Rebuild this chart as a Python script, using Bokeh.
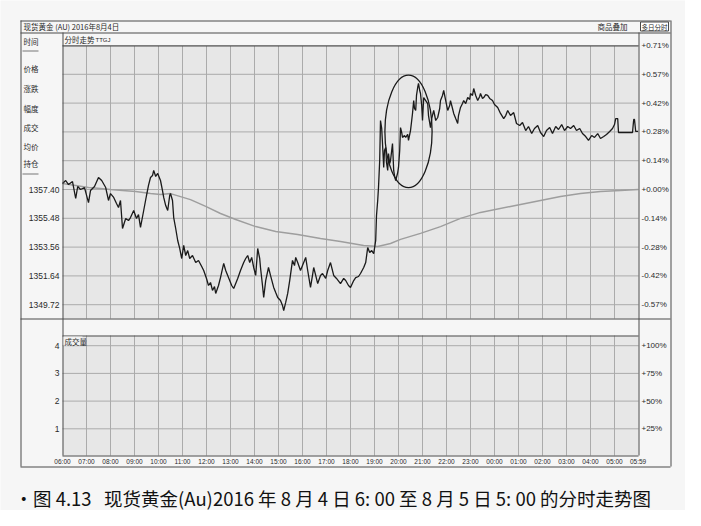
import numpy as np
from bokeh.plotting import figure
from bokeh.models import Range1d
from bokeh.core.properties import value
from bokeh.embed import file_html
from bokeh.resources import INLINE

# ---------------- data ----------------
TITLE = "现货黄金 (AU) 2016年8月4日"
SUBTITLE = "分时走势"
SUBTITLE_CODE = "TTGJ"
OVERLAY_BTN = "商品叠加"
MODE_BTN = "多日分时"
VOL_TITLE = "成交量"
NB = "\u00a0"
CAPTION = ("•图" + NB + "4.13" + NB * 3 + "现货黄金(Au)2016" + NB + "年" + NB + "8" + NB + "月"
           + NB + "4" + NB + "日" + NB + "6:" + NB + "00" + NB + "至" + NB + "8" + NB + "月" + NB
           + "5" + NB + "日" + NB + "5:" + NB + "00" + NB + "的分时走势图")
SIDE_LABELS = ["时间", "价格", "涨跌", "幅度", "成交", "均价", "持仓"]

BASE_PRICE = 1357.40
LEFT_PRICE_TICKS = [1357.40, 1355.48, 1353.56, 1351.64, 1349.72]
RIGHT_PRICE_TICKS = [1367.00, 1365.08, 1363.16, 1361.24, 1359.32,
                     1357.40, 1355.48, 1353.56, 1351.64, 1349.72]
VOL_TICKS = [1, 2, 3, 4]
VOL_PCT_LABELS = ["+25%", "+50%", "+75%", "+100%"]
TIME_LABELS = ["06:00", "07:00", "08:00", "09:00", "10:00", "11:00", "12:00",
               "13:00", "14:00", "15:00", "16:00", "17:00", "18:00", "19:00",
               "20:00", "21:00", "22:00", "23:00", "00:00", "01:00", "02:00",
               "03:00", "04:00", "05:00", "05:59"]

# minutes after 06:00 and price
MINUTES = [
    0, 8, 15, 25, 33, 38, 45, 55, 65, 70,
    80, 90, 98, 108, 115, 120, 128, 135, 140, 145,
    150, 158, 165, 170, 178, 185, 190, 195, 203, 210,
    215, 220, 225, 228, 233, 238, 245, 250, 253, 258,
    263, 268, 270, 275, 278, 283, 288, 293, 298, 303,
    308, 313, 318, 325, 333, 340, 348, 353, 360, 365,
    370, 375, 380, 383, 390, 395, 400, 403, 408, 415,
    423, 428, 433, 438, 445, 453, 458, 463, 468, 473,
    478, 483, 488, 493, 495, 500, 503, 508, 515, 520,
    528, 533, 538, 545, 550, 553, 558, 563, 568, 575,
    580, 583, 588, 595, 600, 608, 613, 620, 625, 628,
    633, 638, 645, 650, 658, 663, 670, 678, 685, 695,
    703, 708, 715, 720, 728, 733, 740, 745, 753, 758,
    763, 768, 773, 778, 783, 785, 788, 790, 793, 795,
    798, 800, 803, 805, 808, 810, 813, 815, 818, 820,
    823, 825, 828, 830, 833, 838, 840, 843, 845, 848,
    850, 855, 858, 863, 865, 870, 873, 875, 878, 880,
    883, 885, 888, 890, 893, 895, 898, 900, 903, 908,
    913, 915, 920, 923, 928, 933, 938, 943, 945, 950,
    953, 958, 963, 968, 970, 975, 978, 983, 988, 990,
    995, 1000, 1003, 1008, 1013, 1018, 1020, 1025, 1028, 1033,
    1038, 1043, 1045, 1050, 1053, 1058, 1063, 1068, 1075, 1080,
    1088, 1095, 1103, 1108, 1113, 1120, 1128, 1135, 1143, 1150,
    1158, 1165, 1173, 1180, 1188, 1195, 1203, 1210, 1218, 1225,
    1233, 1240, 1248, 1255, 1263, 1270, 1278, 1285, 1293, 1300,
    1308, 1315, 1323, 1330, 1338, 1345, 1353, 1360, 1368, 1375,
    1380, 1383, 1388, 1390, 1408, 1425, 1428, 1430, 1433, 1439,
]
PRICES = [
    1357.80, 1358.00, 1357.73, 1357.93, 1356.80, 1357.60, 1357.40, 1357.53, 1356.53, 1357.33,
    1357.60, 1358.20, 1358.00, 1357.53, 1356.67, 1357.13, 1356.87, 1356.47, 1356.20, 1356.67,
    1354.80, 1355.47, 1355.33, 1355.53, 1356.00, 1355.47, 1355.73, 1354.87, 1356.00, 1357.00,
    1357.67, 1358.20, 1358.33, 1358.67, 1358.27, 1358.47, 1358.00, 1357.33, 1356.87, 1356.33,
    1356.00, 1357.00, 1357.13, 1356.67, 1355.53, 1354.80, 1354.00, 1353.47, 1352.80, 1353.67,
    1353.00, 1353.33, 1352.80, 1353.00, 1352.53, 1352.67, 1352.27, 1352.00, 1351.47, 1351.00,
    1351.20, 1350.67, 1350.93, 1350.47, 1351.00, 1351.53, 1352.13, 1352.47, 1352.00, 1351.53,
    1351.00, 1350.80, 1351.13, 1351.47, 1352.00, 1352.53, 1352.80, 1353.00, 1352.53, 1352.87,
    1352.20, 1351.67, 1353.47, 1352.80, 1352.20, 1351.00, 1350.20, 1351.33, 1352.20, 1351.67,
    1350.87, 1350.53, 1350.20, 1350.00, 1349.67, 1349.33, 1349.87, 1350.47, 1351.33, 1352.67,
    1352.33, 1352.87, 1352.53, 1352.00, 1352.33, 1352.87, 1352.00, 1350.87, 1351.67, 1352.20,
    1351.67, 1351.13, 1351.67, 1351.80, 1351.47, 1352.00, 1352.53, 1351.67, 1351.47, 1351.13,
    1351.47, 1351.33, 1351.00, 1350.87, 1351.33, 1351.53, 1351.60, 1351.80, 1352.20, 1352.53,
    1353.53, 1353.20, 1353.33, 1353.13, 1354.00, 1355.67, 1356.67, 1357.53, 1359.33, 1362.00,
    1361.47, 1360.47, 1358.87, 1360.00, 1360.20, 1359.20, 1358.67, 1359.80, 1359.13, 1359.33,
    1360.00, 1360.47, 1358.67, 1358.33, 1358.00, 1358.53, 1358.87, 1360.00, 1361.53, 1361.20,
    1360.87, 1361.00, 1360.87, 1361.07, 1360.67, 1361.33, 1362.00, 1362.47, 1363.33, 1362.80,
    1362.67, 1363.67, 1364.20, 1364.47, 1364.00, 1363.80, 1363.00, 1362.00, 1363.53, 1363.33,
    1363.13, 1362.33, 1361.53, 1362.13, 1362.67, 1362.00, 1362.20, 1362.80, 1363.33, 1363.67,
    1364.00, 1363.33, 1362.67, 1363.00, 1363.33, 1362.80, 1362.47, 1362.13, 1361.80, 1362.33,
    1362.87, 1363.13, 1363.33, 1363.13, 1363.53, 1363.40, 1363.80, 1363.67, 1364.13, 1363.67,
    1363.33, 1363.60, 1363.80, 1363.47, 1363.53, 1363.73, 1363.67, 1363.47, 1363.33, 1363.07,
    1362.87, 1362.47, 1362.13, 1362.33, 1362.67, 1362.33, 1362.53, 1361.80, 1361.67, 1361.87,
    1361.33, 1361.60, 1361.13, 1361.47, 1361.67, 1361.20, 1360.93, 1361.33, 1361.53, 1361.13,
    1361.60, 1361.40, 1361.73, 1361.33, 1361.60, 1361.47, 1361.67, 1361.33, 1361.47, 1361.13,
    1360.93, 1360.67, 1361.00, 1360.87, 1361.13, 1360.80, 1360.93, 1361.07, 1361.27, 1361.47,
    1361.73, 1362.13, 1362.13, 1361.20, 1361.20, 1361.20, 1362.07, 1362.07, 1361.27, 1361.27,
]
AVG_MINUTES = [0, 33, 65, 95, 120, 150, 183, 220, 245, 270, 295, 320, 358, 395, 433,
               483, 533, 588, 645, 695, 753, 788, 820, 845, 895, 945, 995, 1045,
               1120, 1195, 1245, 1295, 1345, 1395, 1439]
AVG_PRICES = [1357.80, 1357.67, 1357.53, 1357.47, 1357.40, 1357.33, 1357.27, 1357.13,
              1357.07, 1357.13, 1356.93, 1356.73, 1356.27, 1355.80, 1355.40, 1354.93,
              1354.60, 1354.40, 1354.13, 1353.93, 1353.67, 1353.60, 1353.80, 1354.07,
              1354.47, 1354.93, 1355.47, 1355.87, 1356.27, 1356.67, 1356.93, 1357.13,
              1357.27, 1357.33, 1357.40]

# hand-drawn circle around the breakout (centre minute / price, size)
CIRCLE_MINUTE = 865
CIRCLE_PRICE = 1361.27
CIRCLE_W_MIN = 118
CIRCLE_H_PRICE = 7.5

# ---------------- layout (canvas pixels) ----------------
W, H = 685, 510
FL, FR, FT = 62, 638, 45          # plot area edges
PRICE_B, VOL_T, VOL_B = 318, 335, 455
BASE_Y, STEP_PX, PRICE_STEP = 189, 28.8, 1.92
VOL0_Y, VOL_PX = 456, 27.7
PX_PER_HOUR = 24.0
ppp = PRICE_STEP / STEP_PX


def price_at(y):
    return BASE_PRICE - (y - BASE_Y) * ppp


def vol_at(y):
    return (VOL0_Y - y) / VOL_PX


BG = "#f6f6f6"
PANEL = "#e7e7e7"
GRID = "#ababab"
EDGE = "#4a4a4a"
TXT = "#2a2a2a"
CJK = "Noto Sans CJK SC"
NUM = "Liberation Sans"

p = figure(width=W, height=H, title=None,
           x_range=Range1d(-FL / PX_PER_HOUR, (W - FL) / PX_PER_HOUR),
           y_range=Range1d(price_at(H), price_at(0)),
           x_axis_type=None, y_axis_type=None, output_backend="svg",
           toolbar_location=None, min_border=0)
p.extra_x_ranges = {"px": Range1d(0, W)}
p.extra_y_ranges = {"py": Range1d(H, 0), "vol": Range1d(vol_at(H), vol_at(0))}
p.outline_line_color = None
p.background_fill_color = BG
p.border_fill_color = BG

# panel backgrounds
p.quad(left=[FL, FL], right=[FR, FR], top=[FT, VOL_T], bottom=[PRICE_B, VOL_B],
       x_range_name="px", y_range_name="py", fill_color=PANEL, line_color=None)

# grid
hours = list(range(1, 24))
n = len(hours)
p.segment(x0=hours, x1=hours, y0=[FT] * n, y1=[PRICE_B] * n, y_range_name="py",
          line_color=GRID, line_width=1)
p.segment(x0=hours, x1=hours, y0=[VOL_T] * n, y1=[VOL_B] * n, y_range_name="py",
          line_color=GRID, line_width=1)
p.segment(x0=[0] * len(RIGHT_PRICE_TICKS), x1=[24] * len(RIGHT_PRICE_TICKS),
          y0=RIGHT_PRICE_TICKS, y1=RIGHT_PRICE_TICKS, line_color=GRID, line_width=1)
p.segment(x0=[0] * len(VOL_TICKS), x1=[24] * len(VOL_TICKS), y0=VOL_TICKS, y1=VOL_TICKS,
          y_range_name="vol", line_color=GRID, line_width=1)

# series
p.line(np.array(AVG_MINUTES) / 60, AVG_PRICES, line_color="#9e9e9e", line_width=1.4)
p.line(np.array(MINUTES) / 60, PRICES, line_color="#1a1a1a", line_width=1.3)
p.ellipse(x=[CIRCLE_MINUTE / 60], y=[CIRCLE_PRICE], width=[CIRCLE_W_MIN / 60],
          height=[CIRCLE_H_PRICE], fill_color=None, line_color="#1a1a1a", line_width=1.3)

# structural lines (canvas px)
H_LINES = [(20, 20, 670), (32, 20, 670), (466, 20, 670), (PRICE_B, 20, 670),
           (FT, FL, FR), (VOL_T, FL, FR), (VOL_B, FL, FR)]
V_LINES = [(20, 20, 466), (670, 20, 466), (FL, 32, VOL_B), (FR, 32, VOL_B)]
p.segment(x0=[h[1] for h in H_LINES], x1=[h[2] for h in H_LINES],
          y0=[h[0] + 0.5 for h in H_LINES], y1=[h[0] + 0.5 for h in H_LINES],
          x_range_name="px", y_range_name="py", line_color=EDGE, line_width=1)
p.segment(x0=[v[0] + 0.5 for v in V_LINES], x1=[v[0] + 0.5 for v in V_LINES],
          y0=[v[1] for v in V_LINES], y1=[v[2] for v in V_LINES],
          x_range_name="px", y_range_name="py", line_color=EDGE, line_width=1)
p.segment(x0=[22, 22], x1=[38, 38], y0=[50.5, 173.5], y1=[50.5, 173.5],
          x_range_name="px", y_range_name="py", line_color="#777777", line_width=1)
# mode button box
p.quad(left=[640], right=[668], top=[21.5], bottom=[30.5], x_range_name="px",
       y_range_name="py", fill_color="#ffffff", line_color=EDGE, line_width=1)
# volume title background
p.quad(left=[63], right=[82], top=[336], bottom=[345], x_range_name="px",
       y_range_name="py", fill_color="#f2f2f2", line_color=None)


def txt(x, y, texts, size, font=CJK, align="left", baseline="middle", color=TXT,
        xr="px", yr="py"):
    kw = {}
    if xr:
        kw["x_range_name"] = xr
    if yr:
        kw["y_range_name"] = yr
    p.text(x=x, y=y, text=texts, text_font=value(font), text_font_size=value(f"{size}px"),
           text_align=align, text_baseline=baseline, text_color=color, **kw)


# axis tick labels (positioned through the price / volume / time scales)
txt([FL - 3] * len(LEFT_PRICE_TICKS), LEFT_PRICE_TICKS,
    [f"{t:.2f}" for t in LEFT_PRICE_TICKS], 8.5, font=NUM, align="right", yr=None)
txt([FR + 3] * len(RIGHT_PRICE_TICKS), RIGHT_PRICE_TICKS,
    [f"{(t / BASE_PRICE - 1) * 100:+.2f}%" for t in RIGHT_PRICE_TICKS], 8, font=NUM,
    yr=None)
txt([FL - 3] * len(VOL_TICKS), VOL_TICKS, [str(v) for v in VOL_TICKS], 8.5, font=NUM,
    align="right", yr="vol")
txt([FR + 3] * len(VOL_TICKS), VOL_TICKS, VOL_PCT_LABELS, 8, font=NUM, yr="vol")
time_pos = [((int(s[:2]) - 6) % 24) + int(s[3:]) / 60 for s in TIME_LABELS]
txt(time_pos, [460.5] * len(TIME_LABELS), TIME_LABELS, 6.5, font=NUM, align="center",
    xr=None)

# header / side texts
txt([23], [26], [TITLE], 7.5)
txt([627], [26], [OVERLAY_BTN], 7.5, align="right")
txt([654], [26], [MODE_BTN], 6.5, align="center")
txt([64], [39], [SUBTITLE], 7.5)
txt([95], [39], [SUBTITLE_CODE], 6, font=NUM)
txt([64], [340.5], [VOL_TITLE], 7.5)
side_y = [41, 68, 88, 108, 127, 146, 163]
txt([23] * len(SIDE_LABELS), side_y, SIDE_LABELS, 7.5)

# caption
txt([14], [497], [CAPTION], 18.5, color="#111111")

open("out.html", "w").write(file_html(p, INLINE))
